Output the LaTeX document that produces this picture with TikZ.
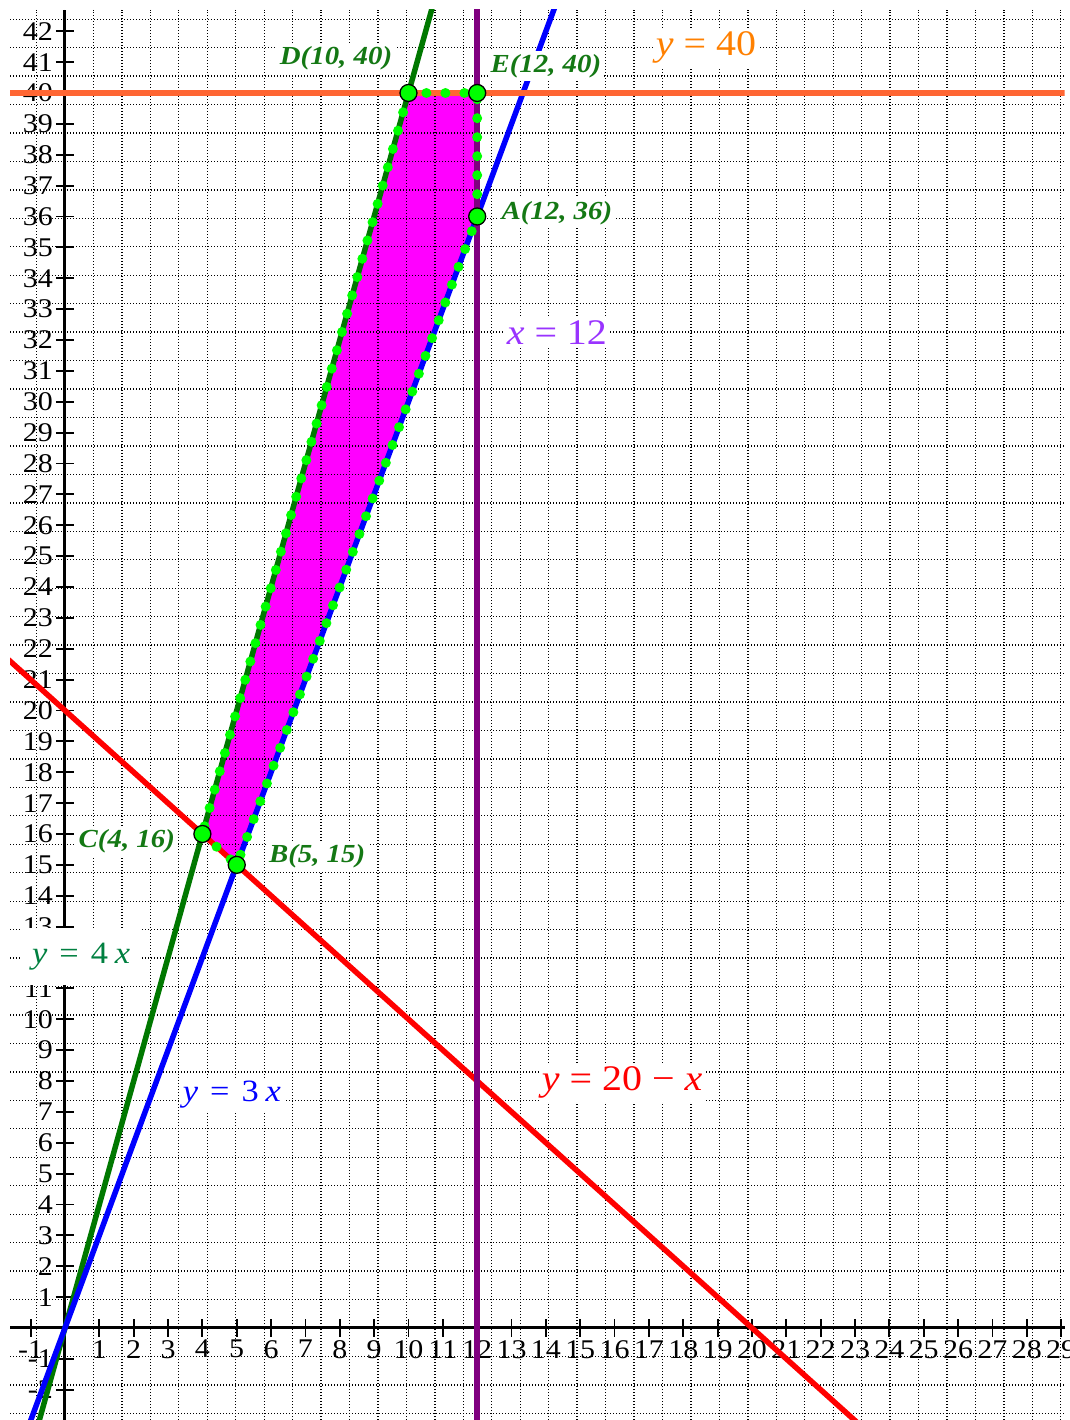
\documentclass[tikz,border=0pt]{standalone}
\usepackage{fontspec}
\setmainfont{Liberation Serif}
\newcommand\wide[1]{\scalebox{1.11}[1]{#1}}
\definecolor{lineorange}{RGB}{255,102,51}
\definecolor{textorange}{RGB}{255,128,0}
\definecolor{linepurple}{RGB}{128,0,128}
\definecolor{textpurple}{RGB}{153,51,255}
\definecolor{linered}{RGB}{255,0,0}
\definecolor{lineblue}{RGB}{0,0,255}
\definecolor{linegreen}{RGB}{0,120,0}
\definecolor{textgreen}{RGB}{20,120,20}
\definecolor{textteal}{RGB}{0,128,64}
\definecolor{brightgreen}{RGB}{0,255,0}
\definecolor{regionfill}{RGB}{255,0,255}
\begin{document}
\begin{tikzpicture}[
    x=34.35pt, y=30.875pt,
    gridline/.style={black, line width=1.3pt, dash pattern=on 1.3pt off 1.7pt},
    axis/.style={black, line width=3pt},
    tick/.style={black, line width=1.8pt},
    curve/.style={line width=5.5pt},
    ticklabel/.style={inner sep=0pt, font=\fontsize{27}{30}\selectfont},
    eqlabel/.style={fill=white, inner sep=3pt, font=\fontsize{36}{40}\selectfont},
    ptlabel/.style={fill=white, inner sep=3pt, text=textgreen, font=\fontsize{26}{28}\selectfont\bfseries\itshape},
    pt/.style={circle, draw=black, line width=1.3pt, fill=brightgreen, minimum size=17pt, inner sep=0pt},
    boundary/.style={brightgreen, line width=10pt, line cap=round, dash pattern=on 0pt off 19pt}
]
    \fill[white] (-1.892,-2.980) rectangle (29.258,43.012);
    \useasboundingbox (-1.892,-2.980) rectangle (29.258,43.012);

    \coordinate (A) at (12,36);
    \coordinate (B) at (5,15);
    \coordinate (C) at (4,16);
    \coordinate (D) at (10,40);
    \coordinate (E) at (12,40);

    \fill[regionfill] (C) -- (B) -- (A) -- (E) -- (D) -- cycle;
    \draw[gridline] (-1.6,-2.98) grid (29.1,42.7);

    \draw[axis] (-1.6,0) -- (29.1,0);
    \draw[axis] (0,-2.98) -- (0,42.7);
    \foreach \i in {-1,1,2,...,29} {
        \draw[tick] ([yshift=-9pt]\i,0) -- ([yshift=9pt]\i,0);
        \node[ticklabel, anchor=north] (xl\i) at ([yshift=-12pt]\i,0) {\wide{\i}};
    }
    \foreach \j in {-2,-1,1,2,...,42} {
        \draw[tick] ([xshift=-9pt]0,\j) -- ([xshift=9pt]0,\j);
        \node[ticklabel, anchor=east] (yl\j) at ([xshift=-12pt]0,\j) {\wide{\j}};
    }

    \begin{scope}
        \clip (-1.6,-2.98) rectangle (29.1,42.7);
        \draw[curve, linered] (-2,22) -- (23.5,-3.5);
        \draw[curve, linegreen] (-1,-4) -- (11,44);
        \draw[curve, lineblue] (-1.2,-3.6) -- (14.5,43.5);
        \draw[curve, lineorange] (-2,40) -- (30,40);
        \draw[curve, linepurple] (12,-3.5) -- (12,43.5);
    \end{scope}

    \draw[boundary] (C) -- (B) -- (A) -- (E) -- (D) -- cycle;

    \node[eqlabel, text=textorange] (l40) at (18.66,41.46) {\wide{\textit{y} = 40}};
    \node[eqlabel, text=textpurple] (l12) at (14.32,32.23) {\wide{\textit{x} = 12}};
    \node[eqlabel, text=linered] (l20) at (16.22,7.94) {\wide{\textit{y} = 20 − \textit{x}}};
    \node[eqlabel, text=lineblue, font=\fontsize{31}{34}\selectfont] (l3x) at (4.86,7.55) {\wide{\textit{y}\hspace{.35em}=\hspace{.35em}3\hspace{.2em}\textit{x}}};
    \node[eqlabel, text=textteal, font=\fontsize{31}{34}\selectfont, minimum width=120pt, minimum height=57pt] (l4x) at (0.47,12.03) {\wide{\textit{y}\hspace{.35em}=\hspace{.35em}4\hspace{.2em}\textit{x}}};

    \node[ptlabel] (lD) at (7.89,41.13) {\wide{D(10, 40)}};
    \node[ptlabel] (lE) at (14.0,40.87) {\wide{E(12, 40)}};
    \node[ptlabel] (lA) at (14.32,36.11) {\wide{A(12, 36)}};
    \node[ptlabel] (lC) at (1.80,15.77) {\wide{C(4, 16)}};
    \node[ptlabel] (lB) at (7.34,15.29) {\wide{B(5, 15)}};

    \node[pt] (pA) at (A) {};
    \node[pt] (pB) at (B) {};
    \node[pt] (pC) at (C) {};
    \node[pt] (pD) at (D) {};
    \node[pt] (pE) at (E) {};
\end{tikzpicture}
\end{document}
